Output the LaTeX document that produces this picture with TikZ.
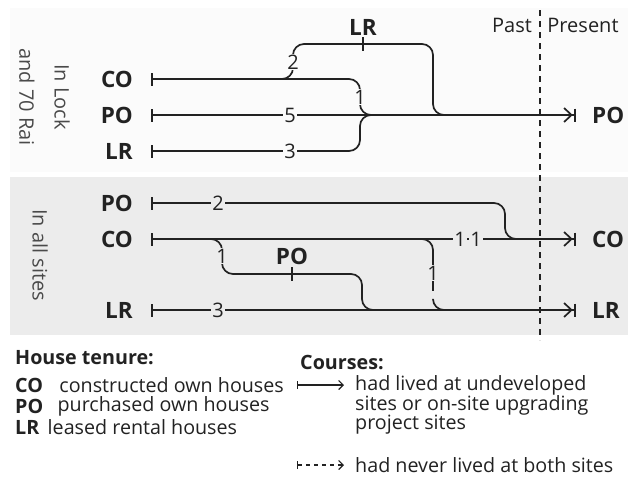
\documentclass[tikz,border=0pt]{standalone}
\usepackage{fontspec}
\setmainfont{Open Sans}
\usetikzlibrary{arrows.meta,positioning}

\definecolor{ink}{HTML}{222222}
\definecolor{panelA}{HTML}{FBFBFB}
\definecolor{panelB}{HTML}{ECECEC}
\definecolor{sidegray}{HTML}{4A4A4A}

\newcommand{\tagfont}{\fontsize{22.5}{23}\selectfont\bfseries}
\newcommand{\numfont}{\fontsize{20}{20}\selectfont}
\newcommand{\legfont}{\fontsize{19.7}{21}\selectfont}

\tikzset{
  startbar/.tip={Bar[width=13pt]},
  endbar/.tip={Straight Barb[length=7.5pt,width=14pt,sep=1.5pt] Bar[width=13pt]},
  course/.style={draw=ink, line width=1.7pt, rounded corners=11pt},
  tenure/.style={font=\tagfont, text=ink, anchor=east, inner sep=0pt},
  count/.style={fill=#1, font=\numfont, text=ink, inner sep=1.2pt},
  site/.style={font=\numfont, text=sidegray, rotate=-90},
  legend/.style={font=\legfont, text=ink, anchor=west, inner sep=0pt},
}

\begin{document}
\begin{tikzpicture}[x=1pt, y=-1pt]
        \useasboundingbox (0,0) rectangle (628,477);
        \fill[panelA] (10,8) rectangle (628,172);
        \fill[panelB] (10,177) rectangle (628,335);

        % past / present divide
        \draw[ink, line width=1.1pt, dash pattern=on 6pt off 5pt] (540,10) -- (540,340);
        \node[font=\numfont, text=ink] (past) at (512,25) {Past};
        \node[font=\numfont, text=ink] (present) at (583,25) {Present};

        % Lock and 70 Rai
        \node[site] (lock) at (62,97) {In Lock};
        \node[site] (rai) at (27,97) {and 70 Rai};
        \foreach \t/\y in {CO/79, PO/115, LR/151} {
                \node[tenure] (lk\t) at (133,\y) {\t};
                \coordinate (lk\t s) at (151,\y);
        }
        \coordinate (lkend) at (576,115);
        \coordinate (lkjoin) at (374,115);
        \coordinate (lkfork) at (283,79);
        \coordinate (lkmerge) at (447,115);
        \node[tenure, anchor=west] (lkPOe) at (592,115) {PO};

        \draw[course, startbar-endbar] (lkPOs) -- (lkend);
        \draw[course, startbar-] (lkCOs) -- (360,79) -- (360,115) -- (lkjoin);
        \draw[course, startbar-] (lkLRs) -- (360,151) -- (360,115) -- (lkjoin);
        \draw[course] (lkfork) -- (293,79) -- (293,44) -- (433,44) -- (433,115) -- (lkmerge);
        \draw[course] (363,37) -- (363,51);
        \node[tenure, anchor=center] (lkLRt) at (363,27) {LR};

        \node[count=panelA] (lkn5) at (290,115) {5};
        \node[count=panelA] (lkn3) at (290,151) {3};
        \node[count=panelA] (lkn1) at (360,97) {1};
        \node[count=panelA] (lkn2) at (293,62) {2};

        % all sites
        \node[site] (all) at (40,255) {In all sites};
        \foreach \t/\y in {PO/203, CO/239, LR/310} {
                \node[tenure] (al\t) at (133,\y) {\t};
                \coordinate (al\t s) at (151,\y);
        }
        \coordinate (alCOe) at (576,239);
        \coordinate (alLRe) at (576,310);
        \coordinate (alfork) at (210,239);
        \coordinate (alforkd) at (420,239);
        \node[tenure, anchor=west] (alCOt) at (592,239) {CO};
        \node[tenure, anchor=west] (alLRt) at (592,310) {LR};

        \draw[course, startbar-endbar] (alCOs) -- (alCOe);
        \draw[course, startbar-endbar] (alLRs) -- (alLRe);
        \draw[course, startbar-] (alPOs) -- (505,203) -- (505,239) -- (518,239);
        \draw[course] (alfork) -- (222,239) -- (222,274) -- (362,274) -- (362,310) -- (374,310);
        \draw[course, dash pattern=on 60pt off 8pt] (alforkd) -- (433,239) -- (433,310) -- (446,310);
        \draw[course] (292,267) -- (292,281);
        \node[tenure, anchor=center] (alPOt) at (292,256) {PO};

        \node[count=panelB] (aln2) at (218,203) {2};
        \node[count=panelB] (aln3) at (218,310) {3};
        \node[count=panelB] (aln1a) at (222,256) {1};
        \node[count=panelB] (aln1b) at (433,273) {1};
        \node[count=panelB] (aln1c) at (460,239) {1};
        \node[count=panelB] (aln1d) at (476,239) {1};

        % legend
        \node[legend, font=\legfont\bfseries] (tenurehead) at (15,358) {House tenure:};
        \node[legend, font=\legfont\bfseries] (legCO) at (15,385) {CO};
        \node[legend, right=16pt of legCO] {constructed own houses};
        \node[legend, font=\legfont\bfseries] (legPO) at (15,406) {PO};
        \node[legend, right=14pt of legPO] {purchased own houses};
        \node[legend, font=\legfont\bfseries] (legLR) at (15,427) {LR};
        \node[legend, right=8pt of legLR] {leased rental houses};

        \node[legend, font=\legfont\bfseries] (coursehead) at (300,362) {Courses:};
        \coordinate (legAs) at (297,385);
        \coordinate (legAe) at (344,385);
        \coordinate (legBs) at (297,465);
        \coordinate (legBe) at (344,465);
        \draw[ink, line width=1.2pt, {Bar[width=8pt]}-{Straight Barb[length=4.5pt,width=9pt]}] (legAs) -- (legAe);
        \draw[ink, line width=1.2pt, dash pattern=on 4pt off 4pt, {Bar[width=8pt]}-{Straight Barb[length=4.5pt,width=9pt]}] (legBs) -- (legBe);
        \node[legend] (legA1) at (355,385) {had lived at undeveloped};
        \node[legend] (legA2) at (355,405) {sites or on-site upgrading};
        \node[legend] (legA3) at (355,425) {project sites};
        \node[legend] (legB1) at (355,465) {had never lived at both sites};
\end{tikzpicture}
\end{document}
